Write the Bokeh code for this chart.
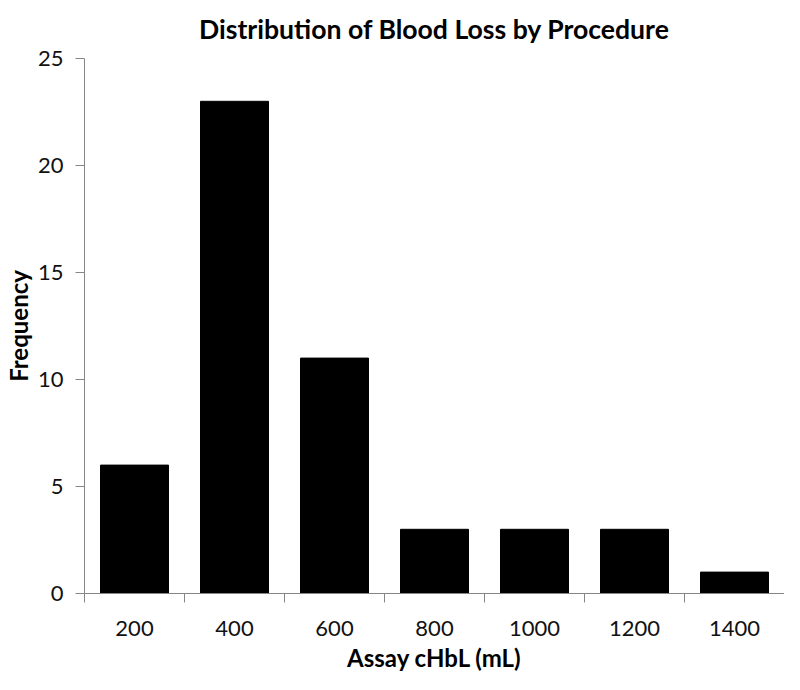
from bokeh.plotting import figure
from bokeh.models import Range1d, FixedTicker
from bokeh.embed import file_html
from bokeh.resources import INLINE

# Data
categories = ["200", "400", "600", "800", "1000", "1200", "1400"]
frequency = [6, 23, 11, 3, 3, 3, 1]
y_ticks = [0, 5, 10, 15, 20, 25]

n = len(categories)
centers = [i + 0.5 for i in range(n)]
boundaries = list(range(n + 1))

FONT = "Lato"
AXIS_GRAY = "#868686"

p = figure(
    width=784, height=674,
    x_range=Range1d(0, n), y_range=Range1d(0, 25),
    output_backend="svg", toolbar_location=None,
    title="Distribution of Blood Loss by Procedure",
    min_border_left=75, min_border_right=0,
    min_border_top=56, min_border_bottom=0,
)
p.outline_line_color = None
p.xgrid.visible = False
p.ygrid.visible = False

p.vbar(x=centers, top=frequency, width=0.68, bottom=0,
       fill_color="black", line_color="black")

# Title
p.title.text_font = FONT
p.title.text_font_size = "26.6px"
p.title.text_font_style = "bold"
p.title.align = "center"
p.title.vertical_align = "top"
p.title.text_color = "#000000"
p.title.standoff = 24

# X axis: labels at centers, tick marks at boundaries
xa = p.xaxis[0]
xa.ticker = FixedTicker(ticks=centers, minor_ticks=boundaries)
xa.major_label_overrides = {c: lab for c, lab in zip(centers, categories)}
xa.major_tick_out = 0
xa.major_tick_in = 0
xa.minor_tick_out = 9
xa.minor_tick_in = 0
xa.minor_tick_line_color = AXIS_GRAY
xa.axis_line_color = AXIS_GRAY
xa.major_label_standoff = 18
xa.major_label_text_font = FONT
xa.major_label_text_font_size = "22px"
xa.major_label_text_color = "#111111"
xa.axis_label = "Assay cHbL (mL)"
xa.axis_label_text_font = FONT
xa.axis_label_text_font_size = "24px"
xa.axis_label_text_font_style = "bold"
xa.axis_label_text_color = "#000000"
xa.axis_label_standoff = 4

# Y axis
ya = p.yaxis[0]
ya.ticker = FixedTicker(ticks=y_ticks)
ya.major_tick_out = 9
ya.major_tick_in = 0
ya.minor_tick_line_color = None
ya.major_tick_line_color = AXIS_GRAY
ya.axis_line_color = AXIS_GRAY
ya.major_label_standoff = 12
ya.major_label_text_font = FONT
ya.major_label_text_font_size = "22px"
ya.major_label_text_color = "#111111"
ya.axis_label = "Frequency"
ya.axis_label_text_font = FONT
ya.axis_label_text_font_size = "24px"
ya.axis_label_text_font_style = "bold"
ya.axis_label_text_color = "#000000"
ya.axis_label_standoff = 2

open("out.html", "w").write(file_html(p, INLINE))
